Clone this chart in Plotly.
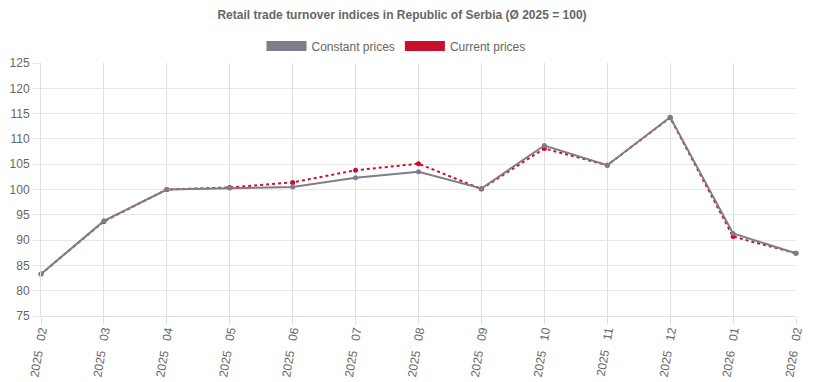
import plotly.graph_objects as go

NB = "\u00a0\u00a0\u00a0"
categories = [f"2025{NB}02", f"2025{NB}03", f"2025{NB}04", f"2025{NB}05", f"2025{NB}06", f"2025{NB}07",
              f"2025{NB}08", f"2025{NB}09", f"2025{NB}10", f"2025{NB}11", f"2025{NB}12", f"2026{NB}01", f"2026{NB}02"]
constant_prices = [83.3, 93.8, 100.0, 100.3, 100.5, 102.3, 103.5, 100.2, 108.7, 104.8, 114.3, 91.3, 87.4]
current_prices = [83.3, 93.7, 100.0, 100.4, 101.4, 103.8, 105.1, 100.1, 108.1, 104.8, 114.2, 90.7, 87.4]

GRAY = "#807c8c"
RED = "#c8102e"
TXT = "#666666"

# page has an 8px body margin; figure is placed at (8, 8)
W, H = 812, 374
L, R, T, B = 33, 24, 55, 66
PW = W - L - R
PH = H - T - B

fig = go.Figure()
fig.add_trace(go.Scatter(x=categories, y=current_prices, mode="lines+markers",
                         line=dict(color=RED, width=2, dash="3px,3px"),
                         marker=dict(color=RED, size=5), showlegend=False, cliponaxis=False))
fig.add_trace(go.Scatter(x=categories, y=constant_prices, mode="lines+markers",
                         line=dict(color=GRAY, width=2),
                         marker=dict(color=GRAY, size=5), showlegend=False, cliponaxis=False))
# legend swatches
fig.add_trace(go.Scatter(x=[None], y=[None], mode="lines", name="Constant prices",
                         line=dict(color=GRAY, width=12)))
fig.add_trace(go.Scatter(x=[None], y=[None], mode="lines", name="Current prices",
                         line=dict(color=RED, width=12)))

fig.update_layout(
    width=W, height=H,
    margin=dict(l=L, r=R, t=T, b=B, autoexpand=False),
    paper_bgcolor="white", plot_bgcolor="white",
    font=dict(family="Liberation Sans, Arial", size=12, color=TXT),
    title=dict(text="<b>Retail trade turnover indices in Republic of Serbia (Ø 2025 = 100)</b>",
               x=(402 - 8) / W, xanchor="center", y=1 - 7/H, yanchor="middle",
               font=dict(size=12, color=TXT), automargin=False),
    legend=dict(orientation="h", x=(388 - L) / PW, xanchor="center", y=1 + 17/PH, yanchor="middle",
                font=dict(size=12, color=TXT), itemwidth=40, traceorder="normal"),
    showlegend=True,
)
fig.update_xaxes(type="category", range=[0, len(categories) - 1], showgrid=True,
                 gridcolor="#e0e0e0", gridwidth=1, tickangle=-80, ticks="outside",
                 ticklen=8, tickcolor="#e0e0e0", showline=True, linecolor="#e0e0e0",
                 tickfont=dict(size=12, color=TXT), zeroline=False, automargin=False,
                 ticklabelstandoff=-6)
fig.update_yaxes(range=[75, 125], dtick=5, showgrid=True, gridcolor="#e8e8e8", gridwidth=1,
                 ticks="outside", ticklen=8, tickcolor="#e8e8e8", showline=True,
                 linecolor="#e0e0e0", tickfont=dict(size=12, color=TXT), zeroline=False,
                 automargin=False)

fig.write_html("out.html")
